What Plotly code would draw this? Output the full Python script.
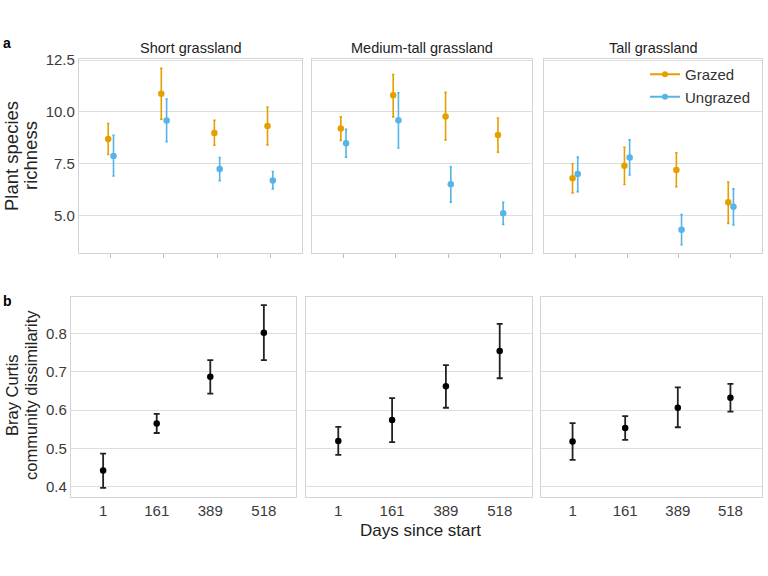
import plotly.graph_objects as go
import numpy as np

days = ["1", "161", "389", "518"]
habitats = ["Short grassland", "Medium-tall grassland", "Tall grassland"]

# Plant species richness (mean, lower, upper) per habitat
grazed_mean = [[8.69, 10.88, 8.98, 9.32], [9.20, 10.80, 9.78, 8.89], [6.80, 7.40, 7.20, 5.64]]
grazed_low = [[7.95, 9.65, 8.39, 8.41], [8.63, 9.76, 8.65, 8.06], [6.10, 6.50, 6.39, 4.63]]
grazed_high = [[9.44, 12.10, 9.59, 10.24], [9.76, 11.80, 10.94, 9.71], [7.50, 8.30, 8.03, 6.62]]

ungrazed_mean = [[7.88, 9.59, 7.25, 6.70], [8.49, 9.60, 6.51, 5.11], [7.01, 7.80, 4.32, 5.43]]
ungrazed_low = [[6.91, 8.57, 6.69, 6.29], [7.82, 8.26, 5.65, 4.57], [6.16, 6.96, 3.60, 4.55]]
ungrazed_high = [[8.87, 10.62, 7.80, 7.13], [9.16, 10.92, 7.36, 5.64], [7.82, 8.65, 5.05, 6.29]]

# Bray Curtis community dissimilarity (mean, lower, upper)
bc_mean = [[0.442, 0.565, 0.687, 0.802], [0.519, 0.574, 0.662, 0.754], [0.518, 0.553, 0.606, 0.632]]
bc_low = [[0.397, 0.540, 0.643, 0.730], [0.483, 0.516, 0.606, 0.683], [0.470, 0.522, 0.555, 0.596]]
bc_high = [[0.486, 0.590, 0.730, 0.874], [0.556, 0.631, 0.717, 0.825], [0.566, 0.584, 0.659, 0.668]]

richness_ticks = [5.0, 7.5, 10.0, 12.5]
bc_ticks = [0.4, 0.5, 0.6, 0.7, 0.8]

ORANGE = "#E69F00"
BLUE = "#56B4E9"
FONT = "Liberation Sans, Arial, sans-serif"
W, H = 768, 576

top_px = [(79, 302), (312, 532), (544, 762)]
bot_px = [(71, 296), (306, 532), (541, 762)]
top_y = (59, 253)
bot_y = (297, 497)

def xd(p):
    return [p[0] / W, p[1] / W]

def yd(p):
    return [1 - p[1] / H, 1 - p[0] / H]

idx = np.arange(len(days))
dodge = 0.05

fig = go.Figure()

def add_series(i, mean, low, high, color, offset, name):
    m = np.array(mean[i]); lo = np.array(low[i]); hi = np.array(high[i])
    fig.add_trace(go.Scatter(
        x=idx + offset, y=m, mode="markers", name=name, showlegend=False,
        marker=dict(color=color, size=6.5),
        error_y=dict(type="data", symmetric=False, array=hi - m, arrayminus=m - lo,
                     color=color, thickness=1.6, width=1.2),
        xaxis=f"x{i+1 if i else ''}", yaxis=f"y{i+1 if i else ''}",
    ))

for i in range(3):
    add_series(i, grazed_mean, grazed_low, grazed_high, ORANGE, -dodge, "Grazed")
    add_series(i, ungrazed_mean, ungrazed_low, ungrazed_high, BLUE, dodge, "Ungrazed")

for i in range(3):
    m = np.array(bc_mean[i]); lo = np.array(bc_low[i]); hi = np.array(bc_high[i])
    fig.add_trace(go.Scatter(
        x=idx, y=m, mode="markers", showlegend=False,
        marker=dict(color="black", size=6.5),
        error_y=dict(type="data", symmetric=False, array=hi - m, arrayminus=m - lo,
                     color="#222222", thickness=1.8, width=3),
        xaxis=f"x{i+4}", yaxis=f"y{i+4}",
    ))

# legend entries
for name, color in [("Grazed", ORANGE), ("Ungrazed", BLUE)]:
    fig.add_trace(go.Scatter(x=[None], y=[None], mode="lines+markers", name=name,
                             marker=dict(color=color, size=6), line=dict(color=color, width=2),
                             xaxis="x3", yaxis="y3"))

axis_common = dict(showline=True, mirror=True, linecolor="#d4d4d4", linewidth=1.2,
                   zeroline=False, automargin=False)
layout = dict(
    width=W, height=H, margin=dict(l=0, r=0, t=0, b=0, pad=0, autoexpand=False),
    paper_bgcolor="white", plot_bgcolor="white",
    font=dict(family=FONT, color="#333333", size=14),
    legend=dict(x=645 / W, y=1 - 58 / H, xanchor="left", yanchor="top",
                bgcolor="rgba(0,0,0,0)", font=dict(size=15, color="#333333"),
                itemwidth=30, tracegroupgap=0),
)

for i in range(3):
    k = "" if i == 0 else str(i + 1)
    layout[f"xaxis{k}"] = dict(domain=xd(top_px[i]), range=[-0.6, 3.6], anchor=f"y{k}",
                               tickvals=list(idx), ticktext=days, showticklabels=False,
                               ticks="outside", ticklen=4, tickcolor="#bdbdbd",
                               showgrid=False, **axis_common)
    layout[f"yaxis{k}"] = dict(domain=yd(top_y), range=[3.2, 12.55], anchor=f"x{k}",
                               tickvals=richness_ticks, ticktext=[f"{v:.1f}" for v in richness_ticks],
                               showticklabels=(i == 0), ticks="",
                               showgrid=True, gridcolor="#dedede", gridwidth=1.2,
                               tickfont=dict(size=15, color="#3a3a3a"), **axis_common)
    j = i + 4
    layout[f"xaxis{j}"] = dict(domain=xd(bot_px[i]), range=[-0.6, 3.6], anchor=f"y{j}",
                               tickvals=list(idx), ticktext=days, showticklabels=True,
                               ticks="", showgrid=False,
                               tickfont=dict(size=15, color="#3a3a3a"), **axis_common)
    layout[f"yaxis{j}"] = dict(domain=yd(bot_y), range=[0.373, 0.895], anchor=f"x{j}",
                               tickvals=bc_ticks, ticktext=[f"{v:.1f}" for v in bc_ticks],
                               showticklabels=(i == 0), ticks="",
                               showgrid=True, gridcolor="#dedede", gridwidth=1.2,
                               tickfont=dict(size=15, color="#3a3a3a"), **axis_common)

fig.update_layout(**layout)

def txt(text, x, y, size, angle=0, color="#222222", xanchor="center"):
    return dict(text=text, x=x / W, y=1 - y / H, xref="paper", yref="paper",
                showarrow=False, textangle=angle, font=dict(size=size, color=color),
                xanchor=xanchor, yanchor="middle")

ann = []
for i, h in enumerate(habitats):
    cx = (top_px[i][0] + top_px[i][1]) / 2
    ann.append(txt(h, cx, 48, 14.5))
ann.append(txt("<b>a</b>", 1, 43, 14, color="black", xanchor="left"))
ann.append(txt("<b>b</b>", 1, 301, 14, color="black", xanchor="left"))
ann.append(txt("Plant species", 12, 156, 18.5, angle=-90))
ann.append(txt("richness", 31, 156, 18.5, angle=-90))
ann.append(txt("Bray Curtis", 12, 395, 16.5, angle=-90))
ann.append(txt("community dissimilarity", 31, 395, 16.5, angle=-90))
ann.append(txt("Days since start", 420, 530, 17))
fig.update_layout(annotations=ann)

fig.write_html("out.html", config={"displayModeBar": False},
               post_script="document.body.style.margin='0';document.body.style.overflow='hidden';")
